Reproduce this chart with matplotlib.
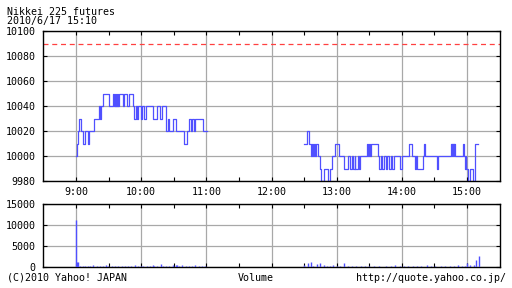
import numpy as np
import matplotlib
matplotlib.use("Agg")
import matplotlib.pyplot as plt
from matplotlib.ticker import MultipleLocator, FixedLocator

# ---- data (minutes after 9:00) ----
am_time = [0, 0.5, 1.4, 2.8, 4.6, 6.4, 8.3, 11.0, 12.4, 16.6, 21.2, 22.0, 23.0, 25.0,
           30.4, 34.0, 35.0, 35.5, 36.0, 36.5, 37.0, 37.5, 38.0, 38.5, 39.0, 39.5,
           43.0, 44.0, 47.0, 49.0, 52.4, 53.4, 55.0, 56.6, 57.5, 60.0, 61.0, 63.0,
           64.0, 71.0, 74.5, 77.5, 79.0, 83.1, 85.0, 86.0, 89.5, 91.7, 99.4, 101.8,
           104.0, 105.5, 107.0, 108.5, 109.5, 117.0, 120.3]
am_price = [10000, 10010, 10020, 10030, 10020, 10010, 10020, 10010, 10020, 10030, 10040, 10030, 10040, 10050,
            10040, 10050, 10040, 10050, 10040, 10050, 10040, 10050, 10040, 10050, 10040, 10050,
            10040, 10050, 10040, 10050, 10040, 10030, 10040, 10030, 10040, 10030, 10040, 10030,
            10040, 10030, 10040, 10030, 10040, 10020, 10030, 10020, 10030, 10020, 10010, 10020,
            10030, 10020, 10030, 10020, 10030, 10020, 10020]

pm_time = [209.9, 212.7, 214.8, 216.4, 217.3, 218.2, 219.1, 220.1, 221.0, 222.5, 224.6, 225.6,
           228.6, 232.3, 233.5, 235.4, 238.4, 242.4, 246.7, 250.7, 252.3, 254.1, 255.0, 256.5,
           257.3, 259.6, 260.6, 261.5, 268.2, 268.8, 269.8, 270.7, 271.6, 278.3, 279.0, 280.5,
           282.0, 283.6, 285.1, 286.6, 288.2, 289.7, 291.2, 292.8, 298.3, 299.9, 306.6, 309.6,
           312.1, 313.0, 313.9, 319.8, 320.4, 320.9, 332.6, 333.6, 345.3, 345.8, 346.3, 346.8,
           347.3, 347.8, 348.3, 348.9, 356.6, 357.5, 358.2, 358.7, 359.1, 360.6, 362.7, 365.8,
           367.4, 370.4]
pm_price = [10010, 10020, 10010, 10000, 10010, 10000, 10010, 10000, 10010, 10000, 9990, 9980,
            9990, 9980, 9990, 10000, 10010, 10000, 9990, 10000, 9990, 10000, 9990, 10000,
            9990, 10000, 9990, 10000, 10010, 10000, 10010, 10000, 10010, 10000, 9990, 10000,
            9990, 10000, 9990, 10000, 9990, 10000, 9990, 10000, 9990, 10000, 10010, 10000,
            9990, 10000, 9990, 10000, 10010, 10000, 9990, 10000, 10010, 10000, 10010, 10000,
            10010, 10000, 10010, 10000, 10010, 10000, 9990, 10000, 9990, 9980, 9990, 9980,
            10010, 10010]

ref_price = 10090

vol_time = [0, 1, 2, 4, 6, 8, 11, 13, 16, 19, 22, 25, 28, 29, 33, 36, 39, 42, 45, 48, 51, 54,
            57, 60, 62, 65, 68, 71, 72, 75, 78, 80, 83, 86, 89, 92, 93, 95, 98, 101, 104, 107,
            110, 113, 116, 119,
            210, 214, 216, 218, 222, 225, 228, 231, 234, 237, 240, 243, 247, 250, 254, 258,
            262, 266, 270, 274, 279, 285, 290, 294, 298, 302, 306, 310, 314, 318, 323, 327,
            331, 336, 340, 344, 348, 352, 355, 358, 360, 363, 366, 368, 371]
vol_value = [11200, 1200, 1150, 250, 200, 300, 250, 200, 400, 250, 300, 200, 450, 250, 200, 300,
             250, 200, 300, 250, 200, 450, 250, 300, 350, 250, 350, 500, 300, 250, 700, 300,
             250, 350, 450, 400, 550, 300, 450, 350, 300, 250, 400, 300, 250, 350,
             450, 850, 1200, 350, 700, 900, 400, 250, 350, 400, 300, 250, 950, 300, 250, 250,
             300, 250, 250, 300, 250, 300, 250, 400, 250, 300, 250, 300, 250, 300, 400, 250,
             300, 350, 250, 300, 250, 400, 300, 350, 850, 500, 400, 1700, 2600]

# ---- style ----
BLUE = "#5050ff"
GRID = "#a8a8a8"
FONT = "DejaVu Sans Mono"
FS = 7.2
plt.rcParams["font.family"] = FONT
plt.rcParams["font.size"] = FS

fig = plt.figure(figsize=(5.12, 2.88), dpi=100)
fig.patch.set_facecolor("white")

ax = fig.add_axes([43 / 512, 1 - 181 / 288, 457 / 512, 150 / 288])
axv = fig.add_axes([43 / 512, 1 - 267 / 288, 457 / 512, 63 / 288])

hours = [0, 60, 120, 180, 240, 300, 360]
hour_labels = ["9:00", "10:00", "11:00", "12:00", "13:00", "14:00", "15:00"]

for a in (ax, axv):
    a.set_xlim(-30.4, 390.4)
    a.xaxis.set_major_locator(FixedLocator(hours))
    a.xaxis.set_minor_locator(FixedLocator([30, 90, 150, 210, 270, 330]))
    a.grid(True, which="major", color=GRID, linewidth=0.9)
    a.set_axisbelow(True)
    a.tick_params(which="both", direction="in", top=True, right=True,
                  length=3, width=0.8, colors="black", labelsize=FS)
    for s in a.spines.values():
        s.set_linewidth(1.0)

ax.step(am_time, am_price, where="post", color=BLUE, linewidth=0.9)
ax.step(pm_time, pm_price, where="post", color=BLUE, linewidth=0.9)
ax.axhline(ref_price, color="#ff4040", linestyle=(0, (4, 3)), linewidth=0.9)
ax.set_ylim(9980, 10100)
ax.yaxis.set_major_locator(MultipleLocator(20))
ax.set_xticklabels(hour_labels)
ax.tick_params(axis="x", pad=4)
ax.tick_params(axis="y", pad=5.5)

axv.vlines(vol_time, 0, vol_value, color=BLUE, linewidth=1.0, zorder=3)
axv.set_ylim(0, 15000)
axv.yaxis.set_major_locator(FixedLocator([0, 5000, 10000, 15000]))
axv.set_xticklabels([])
axv.tick_params(axis="y", pad=5.5)

fig.text(7 / 512, 1 - 12 / 288, "Nikkei 225 futures", va="center", ha="left")
fig.text(7 / 512, 1 - 21 / 288, "2010/6/17 15:10", va="center", ha="left")
fig.text(7 / 512, 1 - 278 / 288, "(C)2010 Yahoo! JAPAN", va="center", ha="left")
fig.text(256 / 512, 1 - 278 / 288, "Volume", va="center", ha="center")
fig.text(506 / 512, 1 - 278 / 288, "http://quote.yahoo.co.jp/", va="center", ha="right")

fig.savefig("out.png", dpi=100)
